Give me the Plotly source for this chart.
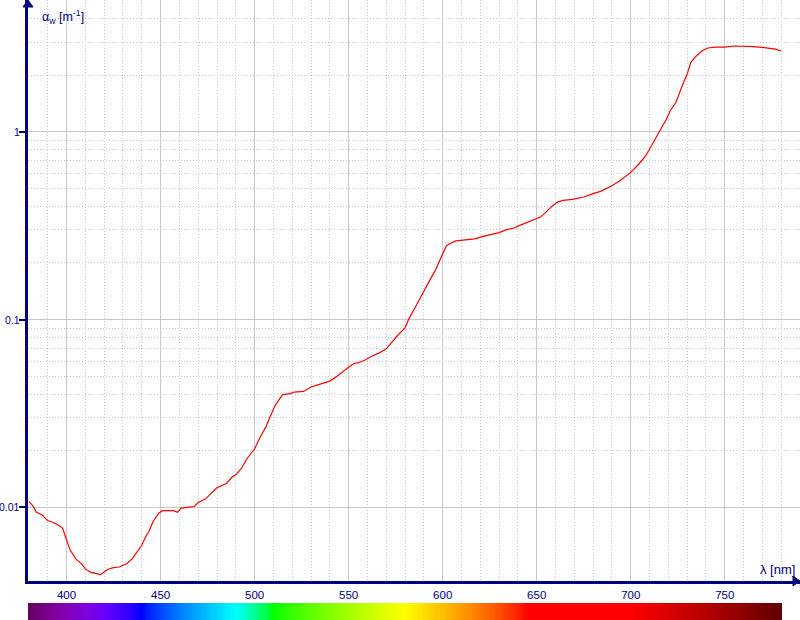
import math
import plotly.graph_objects as go

# ---------------- data ----------------
wavelength_nm = [380, 382, 384, 387, 390, 393, 396, 398, 400, 402, 405, 408, 410, 413, 416, 418,
                 420, 422, 425, 428, 430, 432, 435, 438, 440, 442, 444, 446, 449, 451, 453, 457,
                 459, 461, 464, 468, 470, 474, 477, 480, 485, 488, 490, 493, 496, 500, 503, 506,
                 508, 511, 513, 515, 519, 521, 526, 530, 534, 537, 540, 544, 547, 550, 553, 555,
                 559, 562, 566, 570, 573, 576, 580, 582, 586, 590, 593, 596, 598, 600, 602, 604,
                 607, 611, 617, 621, 626, 630, 634, 638, 641, 645, 648, 652, 655, 658, 661, 664,
                 669, 675, 680, 684, 690, 694, 700, 704, 708, 710, 713, 716, 719, 721, 724, 727,
                 730, 732, 735, 738, 741, 745, 750, 755, 760, 765, 770, 774, 777, 780]
absorption_per_m = [0.0107, 0.0102, 0.0094, 0.0091, 0.0085, 0.0083, 0.0080, 0.0077, 0.0067, 0.0059,
                    0.0053, 0.0050, 0.0047, 0.0045, 0.00443, 0.00438, 0.00452, 0.00468, 0.00477,
                    0.00481, 0.00491, 0.00501, 0.00533, 0.00590, 0.00628, 0.00695, 0.0075, 0.0084,
                    0.0093, 0.0096, 0.0096, 0.0096, 0.0094, 0.0099, 0.0100, 0.0101, 0.0106, 0.0111,
                    0.0119, 0.0127, 0.0134, 0.0145, 0.0149, 0.0161, 0.0182, 0.0205, 0.0237, 0.0268,
                    0.0300, 0.0349, 0.0374, 0.0398, 0.0403, 0.0411, 0.0414, 0.0437, 0.0450, 0.0458,
                    0.0470, 0.0500, 0.0530, 0.0557, 0.0585, 0.0587, 0.0610, 0.0635, 0.0662, 0.0698,
                    0.0757, 0.0822, 0.0903, 0.1008, 0.119, 0.1426, 0.161, 0.182, 0.200, 0.224,
                    0.247, 0.254, 0.262, 0.264, 0.269, 0.276, 0.285, 0.290, 0.301, 0.307, 0.317,
                    0.330, 0.340, 0.351, 0.373, 0.400, 0.422, 0.431, 0.436, 0.449, 0.468, 0.481,
                    0.516, 0.546, 0.607, 0.667, 0.745, 0.809, 0.903, 1.033, 1.168, 1.294, 1.43,
                    1.72, 2.03, 2.34, 2.54, 2.70, 2.79, 2.82, 2.82, 2.86, 2.86, 2.84, 2.81, 2.77,
                    2.75, 2.69]
x_tick_vals = [400, 450, 500, 550, 600, 650, 700, 750]
y_tick_vals = [0.01, 0.1, 1]
y_tick_text = ["0.01", "0.1", "1"]
y_minor_vals = [k * d for d in (0.01, 0.1, 1) for k in range(2, 10)]
spectrum_nm = list(range(380, 781))

# ---------------- style ----------------
NAVY = "#000080"
GRID = "#c8c8c8"
X_RANGE = [379.5, 790]
Y_RANGE = [-2.3924, 0.7013]
FONT = "Liberation Sans"


def wl_rgb(w):
    if w < 440:
        r, g, b = -(w - 440) / 60, 0.0, 1.0
    elif w < 490:
        r, g, b = 0.0, (w - 440) / 50, 1.0
    elif w < 510:
        r, g, b = 0.0, 1.0, -(w - 510) / 20
    elif w < 580:
        r, g, b = (w - 510) / 70, 1.0, 0.0
    elif w < 645:
        r, g, b = 1.0, -(w - 645) / 65, 0.0
    else:
        r, g, b = 1.0, 0.0, 0.0
    if w < 420:
        f = 0.3 + 0.7 * (w - 380) / 40
    elif w > 700:
        f = 0.3 + 0.7 * (780 - w) / 80
    else:
        f = 1.0
    c = [int(round(255 * (v * f) ** 0.8)) if v > 0 else 0 for v in (r, g, b)]
    return "rgb(%d,%d,%d)" % tuple(c)


colorscale = [[(w - 380) / 400, wl_rgb(w)] for w in range(380, 781, 2)]

fig = go.Figure()
fig.add_trace(go.Scatter(x=wavelength_nm, y=absorption_per_m, mode="lines",
                         line=dict(color="#ff0000", width=1.2), hoverinfo="skip",
                         showlegend=False))
fig.add_trace(go.Heatmap(z=[spectrum_nm], x=spectrum_nm, y=[0], colorscale=colorscale,
                         zmin=380, zmax=780, showscale=False, hoverinfo="skip",
                         xaxis="x2", yaxis="y2"))

y_label_annotations = [
    dict(text=t, xref="paper", yref="y", x=0, y=math.log10(v), xanchor="right",
         yanchor="middle", xshift=-7, showarrow=False, borderpad=0,
         font=dict(family=FONT, size=10.5, color=NAVY))
    for v, t in zip(y_tick_vals, y_tick_text)
]

fig.update_layout(
    template="none",
    width=800, height=620,
    margin=dict(l=28, r=0, t=0, b=0, pad=0, autoexpand=False),
    paper_bgcolor="white", plot_bgcolor="white",
    showlegend=False,
    font=dict(family=FONT, color=NAVY),
    xaxis=dict(domain=[0, 1], range=X_RANGE, anchor="y", automargin=False,
               tickmode="array", tickvals=x_tick_vals, ticks="",
               showgrid=True, gridcolor=GRID, gridwidth=1,
               minor=dict(tick0=0, dtick=10, showgrid=True, gridcolor=GRID,
                          gridwidth=1, griddash="1px,2px", ticks=""),
               showline=True, linecolor=NAVY, linewidth=3, zeroline=False,
               tickfont=dict(family=FONT, size=11.5, color=NAVY),
               ticklabelstandoff=1),
    yaxis=dict(domain=[39 / 620, 1], type="log", range=Y_RANGE, anchor="x", automargin=False,
               tickmode="array", tickvals=y_tick_vals, showticklabels=False,
               ticks="outside", ticklen=6, tickwidth=2, tickcolor=NAVY,
               showgrid=True, gridcolor=GRID, gridwidth=1,
               minor=dict(tickmode="array", tickvals=y_minor_vals, showgrid=True,
                          gridcolor=GRID, gridwidth=1, griddash="1px,2px", ticks=""),
               showline=True, linecolor=NAVY, linewidth=3, zeroline=False),
    yaxis3=dict(overlaying="y", type="log", range=Y_RANGE, anchor="x", side="left",
                automargin=False,
                tickmode="array", tickvals=y_tick_vals, ticks="inside", ticklen=6,
                tickwidth=2, tickcolor=NAVY, showticklabels=False, showgrid=False,
                showline=False, zeroline=False),
    xaxis2=dict(domain=[0, 1], range=X_RANGE, anchor="y2", visible=False, automargin=False),
    yaxis2=dict(domain=[0, 17 / 620], range=[-0.5, 0.5], anchor="x2", visible=False,
                automargin=False),
    shapes=[
        dict(type="path", xref="paper", yref="paper", xsizemode="pixel", ysizemode="pixel",
             xanchor=0, yanchor=1, path="M-5,-7 L0,0 L5,-7 Z",
             fillcolor=NAVY, line=dict(color=NAVY, width=1)),
        dict(type="path", xref="paper", yref="paper", xsizemode="pixel", ysizemode="pixel",
             xanchor=1, yanchor=39 / 620, path="M-7,5 L0,0 L-7,-5 Z",
             fillcolor=NAVY, line=dict(color=NAVY, width=1)),
    ],
    annotations=y_label_annotations + [
        dict(text="α<sub>w</sub> [m<sup>-1</sup>]", xref="paper", yref="paper",
             x=12 / 772, y=1 - 17 / 620, xanchor="left", yanchor="middle",
             showarrow=False, font=dict(family=FONT, size=12.5, color=NAVY)),
        dict(text="λ [nm]", xref="paper", yref="paper",
             x=1 - 3 / 772, y=(620 - 569) / 620, xanchor="right", yanchor="middle",
             showarrow=False, font=dict(family=FONT, size=13, color=NAVY)),
    ],
)

fig.write_html("out.html", config={"displayModeBar": False},
               post_script="document.body.style.margin='0';document.body.style.overflow='hidden';")
